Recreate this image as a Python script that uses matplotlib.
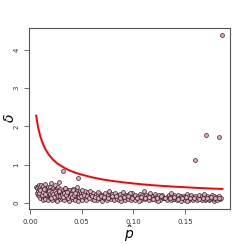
import matplotlib
matplotlib.use("Agg")
import matplotlib.pyplot as plt

# red reference curve
curve_x = [0.006, 0.008, 0.010, 0.012, 0.015, 0.018, 0.022, 0.026, 0.030, 0.035,
           0.040, 0.045, 0.050, 0.060, 0.070, 0.080, 0.090, 0.100, 0.110, 0.120,
           0.130, 0.140, 0.150, 0.160, 0.170, 0.180, 0.186]
curve_y = [2.28, 1.96, 1.74, 1.58, 1.40, 1.27, 1.14, 1.04, 0.97, 0.89,
           0.83, 0.78, 0.74, 0.67, 0.615, 0.573, 0.54, 0.509, 0.483, 0.461,
           0.442, 0.425, 0.410, 0.396, 0.383, 0.372, 0.365]

# the cloud of estimates
p_a = [0.006, 0.007, 0.007, 0.008, 0.008, 0.008, 0.009, 0.009, 0.009, 0.010,
       0.010, 0.010, 0.011, 0.011, 0.011, 0.012, 0.012, 0.012, 0.013, 0.013,
       0.013, 0.014, 0.014, 0.014, 0.015, 0.015, 0.015, 0.016, 0.016, 0.016,
       0.017, 0.017, 0.017, 0.018, 0.018, 0.018, 0.019, 0.019, 0.019, 0.020,
       0.020, 0.020, 0.021, 0.021, 0.021, 0.022, 0.022, 0.022, 0.023, 0.023,
       0.023, 0.024, 0.024, 0.024, 0.025, 0.025, 0.025, 0.026, 0.026, 0.026,
       0.027, 0.027, 0.027, 0.028, 0.028, 0.028, 0.029, 0.029, 0.029, 0.030,
       0.011, 0.013, 0.015, 0.017, 0.019, 0.021, 0.024, 0.026, 0.028, 0.030]
d_a = [0.42, 0.38, 0.27, 0.45, 0.31, 0.22, 0.36, 0.48, 0.19, 0.29,
       0.41, 0.14, 0.33, 0.24, 0.46, 0.18, 0.39, 0.28, 0.35, 0.12,
       0.44, 0.26, 0.31, 0.21, 0.38, 0.16, 0.49, 0.27, 0.34, 0.11,
       0.23, 0.41, 0.30, 0.19, 0.36, 0.25, 0.43, 0.15, 0.29, 0.33,
       0.22, 0.52, 0.17, 0.37, 0.26, 0.31, 0.13, 0.40, 0.24, 0.35,
       0.20, 0.28, 0.46, 0.16, 0.33, 0.22, 0.09, 0.38, 0.27, 0.18,
       0.31, 0.14, 0.42, 0.25, 0.35, 0.21, 0.29, 0.11, 0.37, 0.23,
       0.30, 0.07, 0.10, 0.08, 0.13, 0.09, 0.12, 0.06, 0.55, 0.16]

p_b = [0.031, 0.031, 0.032, 0.032, 0.033, 0.033, 0.034, 0.034, 0.035, 0.035,
       0.036, 0.036, 0.037, 0.037, 0.038, 0.038, 0.039, 0.039, 0.040, 0.040,
       0.041, 0.041, 0.042, 0.042, 0.043, 0.043, 0.044, 0.044, 0.045, 0.045,
       0.046, 0.046, 0.047, 0.047, 0.048, 0.048, 0.049, 0.049, 0.050, 0.050,
       0.051, 0.052, 0.053, 0.054, 0.055, 0.056, 0.057, 0.058, 0.059, 0.060,
       0.061, 0.062, 0.063, 0.064, 0.065, 0.066, 0.067, 0.068, 0.069, 0.070,
       0.034, 0.038, 0.042, 0.046, 0.050, 0.054, 0.058, 0.062, 0.066, 0.070]
d_b = [0.27, 0.13, 0.34, 0.21, 0.09, 0.29, 0.38, 0.17, 0.24, 0.31,
       0.12, 0.26, 0.35, 0.19, 0.08, 0.28, 0.22, 0.33, 0.15, 0.25,
       0.30, 0.11, 0.19, 0.36, 0.24, 0.14, 0.29, 0.07, 0.21, 0.32,
       0.17, 0.26, 0.10, 0.23, 0.30, 0.18, 0.13, 0.27, 0.21, 0.09,
       0.25, 0.16, 0.31, 0.12, 0.22, 0.28, 0.15, 0.19, 0.24, 0.11,
       0.27, 0.18, 0.14, 0.23, 0.09, 0.20, 0.26, 0.13, 0.17, 0.22,
       0.40, 0.06, 0.35, 0.05, 0.33, 0.07, 0.30, 0.08, 0.29, 0.06]

p_c = [0.071, 0.072, 0.073, 0.074, 0.074, 0.075, 0.076, 0.077, 0.078, 0.078,
       0.079, 0.080, 0.081, 0.082, 0.082, 0.083, 0.084, 0.085, 0.086, 0.086,
       0.087, 0.088, 0.089, 0.090, 0.090, 0.091, 0.092, 0.093, 0.094, 0.094,
       0.095, 0.096, 0.097, 0.098, 0.098, 0.099, 0.100, 0.101, 0.102, 0.102,
       0.103, 0.104, 0.105, 0.106, 0.106, 0.107, 0.108, 0.109, 0.110, 0.110,
       0.111, 0.112, 0.113, 0.114, 0.114, 0.115, 0.116, 0.117, 0.118, 0.118,
       0.119, 0.120, 0.121, 0.122, 0.122, 0.123, 0.124, 0.125, 0.126, 0.126,
       0.127, 0.128, 0.129, 0.130, 0.076, 0.088, 0.097, 0.105, 0.116, 0.124]
d_c = [0.19, 0.12, 0.25, 0.16, 0.08, 0.22, 0.14, 0.27, 0.10, 0.18,
       0.23, 0.13, 0.07, 0.20, 0.26, 0.15, 0.11, 0.21, 0.17, 0.09,
       0.24, 0.14, 0.19, 0.12, 0.28, 0.16, 0.08, 0.21, 0.13, 0.18,
       0.10, 0.23, 0.15, 0.19, 0.07, 0.25, 0.12, 0.17, 0.21, 0.09,
       0.14, 0.19, 0.11, 0.24, 0.16, 0.08, 0.20, 0.13, 0.17, 0.32,
       0.10, 0.22, 0.15, 0.12, 0.18, 0.07, 0.21, 0.14, 0.10, 0.17,
       0.19, 0.12, 0.23, 0.08, 0.15, 0.18, 0.11, 0.20, 0.13, 0.09,
       0.16, 0.21, 0.12, 0.14, 0.30, 0.06, 0.27, 0.05, 0.25, 0.06]

p_d = [0.131, 0.132, 0.133, 0.134, 0.134, 0.135, 0.136, 0.137, 0.138, 0.138,
       0.139, 0.140, 0.141, 0.142, 0.142, 0.143, 0.144, 0.145, 0.146, 0.146,
       0.147, 0.148, 0.149, 0.150, 0.150, 0.151, 0.152, 0.153, 0.154, 0.154,
       0.155, 0.156, 0.157, 0.158, 0.158, 0.159, 0.160, 0.161, 0.162, 0.162,
       0.163, 0.164, 0.165, 0.166, 0.166, 0.167, 0.168, 0.169, 0.170, 0.170,
       0.171, 0.172, 0.173, 0.174, 0.174, 0.175, 0.176, 0.177, 0.178, 0.178,
       0.179, 0.180, 0.181, 0.182, 0.183, 0.184, 0.185, 0.136, 0.152, 0.168]
d_d = [0.14, 0.09, 0.19, 0.12, 0.22, 0.16, 0.07, 0.18, 0.11, 0.15,
       0.20, 0.10, 0.13, 0.17, 0.08, 0.21, 0.14, 0.11, 0.18, 0.06,
       0.15, 0.12, 0.19, 0.09, 0.16, 0.13, 0.23, 0.10, 0.17, 0.07,
       0.14, 0.20, 0.11, 0.16, 0.09, 0.13, 0.18, 0.08, 0.15, 0.12,
       0.21, 0.10, 0.14, 0.17, 0.07, 0.12, 0.19, 0.09, 0.15, 0.11,
       0.18, 0.13, 0.08, 0.16, 0.10, 0.14, 0.20, 0.12, 0.06, 0.17,
       0.11, 0.15, 0.09, 0.13, 0.18, 0.10, 0.14, 0.25, 0.04, 0.24]

# extra points where the cloud is densest
p_e = [0.009, 0.010, 0.012, 0.013, 0.014, 0.016, 0.017, 0.018, 0.019, 0.020,
       0.021, 0.022, 0.023, 0.024, 0.025, 0.026, 0.027, 0.028, 0.029, 0.031,
       0.032, 0.033, 0.035, 0.036, 0.037, 0.039, 0.040, 0.041, 0.043, 0.044,
       0.047, 0.049, 0.052, 0.055, 0.057, 0.060, 0.063, 0.066, 0.069, 0.072,
       0.075, 0.079, 0.083, 0.087, 0.091, 0.095, 0.099, 0.103, 0.107, 0.111,
       0.115, 0.119, 0.123, 0.127, 0.131, 0.135, 0.139, 0.143, 0.147, 0.151,
       0.155, 0.159, 0.163, 0.167, 0.171, 0.175, 0.179, 0.183, 0.015, 0.020]
d_e = [0.26, 0.34, 0.22, 0.29, 0.36, 0.20, 0.27, 0.31, 0.23, 0.18,
       0.29, 0.24, 0.15, 0.32, 0.26, 0.21, 0.17, 0.30, 0.19, 0.22,
       0.16, 0.25, 0.20, 0.28, 0.14, 0.18, 0.23, 0.16, 0.20, 0.25,
       0.15, 0.19, 0.22, 0.17, 0.14, 0.19, 0.16, 0.13, 0.18, 0.15,
       0.12, 0.17, 0.19, 0.13, 0.15, 0.17, 0.14, 0.12, 0.16, 0.13,
       0.15, 0.11, 0.14, 0.17, 0.12, 0.13, 0.15, 0.11, 0.13, 0.16,
       0.12, 0.14, 0.10, 0.13, 0.12, 0.15, 0.13, 0.12, 0.24, 0.14]

# the few points far above the cloud
p_out = [0.186, 0.170, 0.1825, 0.160, 0.032, 0.046, 0.045]
d_out = [4.39, 1.78, 1.73, 1.13, 0.84, 0.66, 0.41]

p_all = p_a + p_b + p_c + p_d + p_e + p_out
d_all = d_a + d_b + d_c + d_d + d_e + d_out

axcol = "#555555"

fig = plt.figure(figsize=(2.45, 2.45), dpi=100)
ax = fig.add_axes([0.118, 0.147, 0.821, 0.739])

ax.plot(p_all, d_all, 'o', ms=2.8, mfc='#e2aabd', mec='#33252b', mew=0.5, ls='none')
ax.plot(curve_x, curve_y, color='red', lw=1.4)

ax.set_xlim(-0.001, 0.1934)
ax.set_ylim(-0.157, 4.57)
ax.set_xticks([0.00, 0.05, 0.10, 0.15])
ax.set_xticklabels(['0.00', '0.05', '0.10', '0.15'])
ax.set_yticks([0, 1, 2, 3, 4])
ax.set_yticklabels(['0', '1', '2', '3', '4'], rotation=90, va='center')

for s in ax.spines.values():
    s.set_color(axcol)
    s.set_linewidth(0.8)
ax.tick_params(direction='out', length=3.5, width=0.6, colors=axcol,
               labelsize=5, pad=3.5)
for lab in ax.get_xticklabels() + ax.get_yticklabels():
    lab.set_color('#333333')

# axis titles placed by hand so they stay inside the small figure
fig.text(0.525, 0.006, r'$\hat{p}$', fontsize=10, ha='center', va='bottom')
fig.text(0.035, 0.52, r'$\hat{\delta}$', fontsize=10, rotation=90,
         ha='center', va='center')

fig.savefig('out.png', dpi=100)
